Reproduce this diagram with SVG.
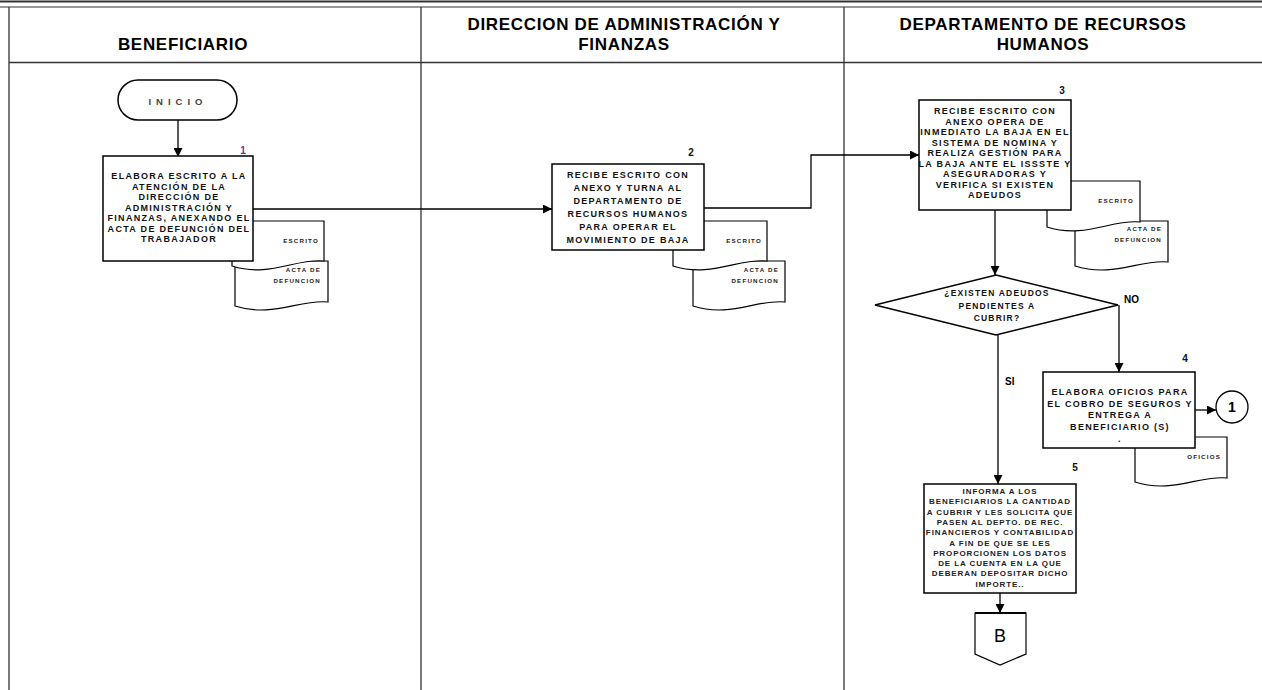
<svg xmlns="http://www.w3.org/2000/svg" width="1262" height="690" viewBox="0 0 1262 690">
<style>
  .lane{stroke:#333;stroke-width:1.3;fill:none}
  .hdr{font-family:"Liberation Sans",Arial,sans-serif;font-weight:bold;font-size:17px;letter-spacing:0.7px;fill:#000;text-anchor:middle}
  .box{fill:#fff;stroke:#000;stroke-width:1.5}
  .doc{fill:#fff;stroke:#000;stroke-width:1.2}
  .t{font-family:"Liberation Sans",Arial,sans-serif;font-weight:bold;font-size:9px;letter-spacing:1.3px;fill:#111;text-anchor:middle}
  .td{font-family:"Liberation Sans",Arial,sans-serif;font-weight:bold;font-size:8.5px;letter-spacing:1.2px;fill:#111;text-anchor:middle}
  .t5{font-family:"Liberation Sans",Arial,sans-serif;font-weight:bold;font-size:8px;letter-spacing:0.9px;fill:#222;text-anchor:middle}
  .dt{font-family:"Liberation Sans",Arial,sans-serif;font-weight:bold;font-size:6.2px;letter-spacing:1.2px;fill:#222;text-anchor:end}
  .num{font-family:"Liberation Sans",Arial,sans-serif;font-weight:bold;font-size:10px;fill:#111;text-anchor:middle}
  .lbl{font-family:"Liberation Sans",Arial,sans-serif;font-weight:bold;font-size:10px;fill:#000}
  .conn{fill:none;stroke:#000;stroke-width:1.3;marker-end:url(#arr)}
</style>
<defs>
  <marker id="arr" viewBox="0 0 10 10" refX="10" refY="5" markerWidth="9" markerHeight="9" markerUnits="userSpaceOnUse" orient="auto">
    <path d="M0,0 L10,5 L0,10 z" fill="#000"/>
  </marker>
</defs>
<rect x="0" y="0" width="1262" height="690" fill="#fff"/>

<g id="lanes">
  <line x1="0" y1="1.5" x2="1262" y2="1.5" stroke="#333" stroke-width="2"/>
  <line x1="0" y1="7" x2="1262" y2="7" stroke="#333" stroke-width="1.2"/>
  <line class="lane" x1="9" y1="7" x2="9" y2="690"/>
  <line class="lane" x1="421" y1="7" x2="421" y2="690"/>
  <line class="lane" x1="844" y1="7" x2="844" y2="690"/>
  <line class="lane" x1="9" y1="62.5" x2="1262" y2="62.5"/>
  <text class="hdr" x="183" y="50">BENEFICIARIO</text>
  <text class="hdr" x="624" y="30">DIRECCION DE ADMINISTRACIÓN Y</text>
  <text class="hdr" x="624" y="50">FINANZAS</text>
  <text class="hdr" x="1043" y="30">DEPARTAMENTO DE RECURSOS</text>
  <text class="hdr" x="1043" y="50">HUMANOS</text>
</g>

<g id="connectors">
  <path class="conn" d="M178,120 V157"/>
  <path class="conn" d="M253,209 H552"/>
  <path class="conn" d="M704,208 H811 V155 H919"/>
  <path class="conn" d="M995,210 V275"/>
  <path class="conn" d="M1119,305 V372"/>
  <path class="conn" d="M998,335 V484"/>
  <path class="conn" d="M1195,410 H1216"/>
  <path class="conn" d="M1000,593 V613"/>
</g>

<g id="inicio">
  <rect class="box" x="118" y="80" width="119" height="40" rx="20" ry="20"/>
  <text x="178" y="104.5" font-family="Liberation Sans, Arial, sans-serif" font-weight="bold" font-size="9.5" letter-spacing="5" fill="#444" text-anchor="middle">INICIO</text>
</g>

<g id="n1">
  <path class="doc" d="M235,261 H328 V302 C300,299 272,318 235,306 Z"/>
  <text class="dt" x="321" y="272">ACTA DE</text>
  <text class="dt" x="321" y="283">DEFUNCION</text>
  <path class="doc" d="M232,221 H324 V261 C296,258 269,278 232,266 Z"/>
  <text class="dt" x="319" y="243">ESCRITO</text>
  <rect class="box" x="103" y="156" width="150" height="105"/>
  <text class="num" x="243" y="154" style="fill:#7030a0">1</text>
  <text class="t" x="179" y="179">ELABORA ESCRITO A LA</text>
  <text class="t" x="179" y="189.5">ATENCIÓN DE LA</text>
  <text class="t" x="179" y="200">DIRECCIÓN DE</text>
  <text class="t" x="179" y="210.5">ADMINISTRACIÓN  Y</text>
  <text class="t" x="179" y="221">FINANZAS, ANEXANDO EL</text>
  <text class="t" x="179" y="231.5">ACTA DE DEFUNCIÓN  DEL</text>
  <text class="t" x="179" y="242">TRABAJADOR</text>
</g>

<g id="n2">
  <path class="doc" d="M693,261 H785 V302 C757,299 730,318 693,306 Z"/>
  <text class="dt" x="779" y="272">ACTA DE</text>
  <text class="dt" x="779" y="283">DEFUNCION</text>
  <path class="doc" d="M673,221 H767 V261 C739,258 711,278 673,266 Z"/>
  <text class="dt" x="762" y="243">ESCRITO</text>
  <rect class="box" x="552" y="164" width="152" height="86"/>
  <text class="num" x="691" y="156">2</text>
  <text class="t" x="628" y="178">RECIBE ESCRITO CON</text>
  <text class="t" x="628" y="191">ANEXO  Y TURNA AL</text>
  <text class="t" x="628" y="204">DEPARTAMENTO DE</text>
  <text class="t" x="628" y="217">RECURSOS HUMANOS</text>
  <text class="t" x="628" y="230">PARA OPERAR EL</text>
  <text class="t" x="628" y="243">MOVIMIENTO DE BAJA</text>
</g>

<g id="n3">
  <path class="doc" d="M1075,221 H1168 V262 C1140,259 1113,278 1075,266 Z"/>
  <text class="dt" x="1162" y="231">ACTA DE</text>
  <text class="dt" x="1162" y="242">DEFUNCION</text>
  <path class="doc" d="M1047,181 H1140 V222 C1112,219 1085,239 1047,227 Z"/>
  <text class="dt" x="1134" y="203">ESCRITO</text>
  <rect class="box" x="919" y="100" width="152" height="110"/>
  <text class="num" x="1062" y="94">3</text>
  <text class="t" x="995" y="114">RECIBE ESCRITO CON</text>
  <text class="t" x="995" y="124.5">ANEXO OPERA DE</text>
  <text class="t" x="995" y="135">INMEDIATO LA  BAJA EN EL</text>
  <text class="t" x="995" y="145.5">SISTEMA DE NOMINA Y</text>
  <text class="t" x="995" y="156">REALIZA GESTIÓN  PARA</text>
  <text class="t" x="995" y="166.5">LA BAJA ANTE  EL ISSSTE Y</text>
  <text class="t" x="995" y="177">ASEGURADORAS   Y</text>
  <text class="t" x="995" y="187.5">VERIFICA SI EXISTEN</text>
  <text class="t" x="995" y="198">ADEUDOS</text>
</g>

<g id="decision">
  <polygon class="box" points="996,275 1118,305 996,335 875,305"/>
  <text class="td" x="997" y="296">¿EXISTEN ADEUDOS</text>
  <text class="td" x="997" y="309">PENDIENTES A</text>
  <text class="td" x="997" y="321">CUBRIR?</text>
  <text class="lbl" x="1124" y="303">NO</text>
  <text class="lbl" x="1005" y="385" font-size="9">SI</text>
</g>

<g id="n4">
  <path class="doc" d="M1135,437 H1227 V478 C1199,475 1172,494 1135,482 Z"/>
  <text class="dt" x="1221" y="459">OFICIOS</text>
  <rect class="box" x="1043" y="372" width="152" height="76"/>
  <text class="num" x="1185" y="362">4</text>
  <text class="t" x="1120" y="395">ELABORA OFICIOS  PARA</text>
  <text class="t" x="1120" y="406.5">EL COBRO DE  SEGUROS Y</text>
  <text class="t" x="1120" y="418">ENTREGA A</text>
  <text class="t" x="1120" y="429.5">BENEFICIARIO (S)</text>
  <text class="t" x="1120" y="442">.</text>
</g>

<g id="c1">
  <circle cx="1232" cy="407" r="16" fill="#fff" stroke="#000" stroke-width="1.3"/>
  <text x="1232" y="412" font-family="Liberation Sans, Arial, sans-serif" font-weight="bold" font-size="14" text-anchor="middle" fill="#000">1</text>
</g>

<g id="n5">
  <rect class="box" x="924" y="484" width="152" height="109"/>
  <text class="num" x="1075" y="471">5</text>
  <text class="t5" x="1000" y="494">INFORMA A LOS</text>
  <text class="t5" x="1000" y="504.3">BENEFICIARIOS LA CANTIDAD</text>
  <text class="t5" x="1000" y="514.6">A CUBRIR Y LES SOLICITA QUE</text>
  <text class="t5" x="1000" y="524.9">PASEN AL DEPTO. DE REC.</text>
  <text class="t5" x="1000" y="535.2">FINANCIEROS Y CONTABILIDAD</text>
  <text class="t5" x="1000" y="545.5">A FIN DE QUE SE LES</text>
  <text class="t5" x="1000" y="555.8">PROPORCIONEN LOS DATOS</text>
  <text class="t5" x="1000" y="566.1">DE LA CUENTA EN LA QUE</text>
  <text class="t5" x="1000" y="576.4">DEBERAN DEPOSITAR DICHO</text>
  <text class="t5" x="1000" y="586.7">IMPORTE..</text>
</g>

<g id="offpageB">
  <polygon points="975,613 1026,613 1026,654 1000,665 975,654" fill="#fff" stroke="#000" stroke-width="1.2"/>
  <line x1="975" y1="613" x2="1026" y2="613" stroke="#000" stroke-width="2"/>
  <text x="1000" y="642" font-family="Liberation Sans, Arial, sans-serif" font-size="18" text-anchor="middle" fill="#000">B</text>
</g>
</svg>
